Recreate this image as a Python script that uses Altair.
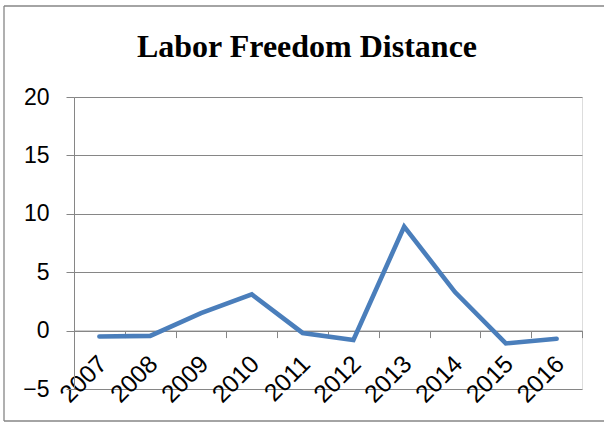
import altair as alt
import pandas as pd

# Labor freedom distance by year
years = ["2007", "2008", "2009", "2010", "2011", "2012", "2013", "2014", "2015", "2016"]
distance = [-0.5, -0.45, 1.5, 3.1, -0.2, -0.8, 8.9, 3.3, -1.1, -0.7]
y_ticks = [-5, 0, 5, 10, 15, 20]

# plot-area geometry (pixels)
W, H = 508, 292
LEFT, TOP = 74, 97
CANVAS_W, CANVAS_H = 604, 423
Y_MIN, Y_MAX = -5, 20
# x axis sits on the zero line
zero_offset = -H * (0 - Y_MIN) / (Y_MAX - Y_MIN)

GRID = "#868686"
LABEL_FONT = "Liberation Sans"

df = pd.DataFrame({"year": years, "distance": distance})

# outer chart frame: top, left and bottom edges (the right edge lies past the canvas)
one = pd.DataFrame({"k": [0]})
frame_left, frame_top, frame_bottom = 4 - LEFT, 6 - TOP, 421 - TOP
frame_right = CANVAS_W - LEFT
frame_style = dict(color=GRID, strokeWidth=1.3)
frame_top_edge = alt.Chart(one).mark_rule(**frame_style).encode(
    x=alt.value(frame_left), x2=alt.value(frame_right), y=alt.value(frame_top)
)
frame_bottom_edge = alt.Chart(one).mark_rule(**frame_style).encode(
    x=alt.value(frame_left), x2=alt.value(frame_right), y=alt.value(frame_bottom)
)
frame_left_edge = alt.Chart(one).mark_rule(**frame_style).encode(
    x=alt.value(frame_left), y=alt.value(frame_top), y2=alt.value(frame_bottom)
)

line = alt.Chart(df).mark_line(
    color="#4A7EBB", strokeWidth=4.6, strokeCap="round"
).encode(
    x=alt.X(
        "year:O",
        sort=years,
        scale=alt.Scale(type="band", paddingInner=0, paddingOuter=0),
        axis=alt.Axis(
            title=None,
            orient="bottom",
            offset=zero_offset,
            labelAngle=-45,
            tickBand="extent",
            tickSize=7,
            tickColor=GRID,
            domainColor=GRID,
            labelFont=LABEL_FONT,
            labelFontSize=24.5,
            labelColor="black",
            labelPadding=14,
            labelOffset=-5,
        ),
    ),
    y=alt.Y(
        "distance:Q",
        scale=alt.Scale(domain=[Y_MIN, Y_MAX], nice=False, zero=False),
        axis=alt.Axis(
            title=None,
            values=y_ticks,
            grid=True,
            gridColor=GRID,
            gridOpacity=1,
            domainColor=GRID,
            tickColor=GRID,
            tickSize=8,
            labelPadding=17,
            labelFont=LABEL_FONT,
            labelFontSize=23,
            labelColor="black",
        ),
    ),
)

chart = alt.layer(frame_top_edge, frame_bottom_edge, frame_left_edge, line).properties(
    width=W,
    height=H,
    title=alt.Title(
        "Labor Freedom Distance",
        font="Liberation Serif",
        fontSize=32,
        fontWeight="bold",
        color="black",
        anchor="middle",
        dx=-21,
        offset=-59,
    ),
    autosize=alt.AutoSizeParams(type="none"),
    padding={"left": LEFT, "top": TOP, "right": CANVAS_W - LEFT - W, "bottom": CANVAS_H - TOP - H},
).configure_view(stroke=None).configure(background="white")

chart.save("out.html", embed_options={"renderer": "svg", "actions": False})
